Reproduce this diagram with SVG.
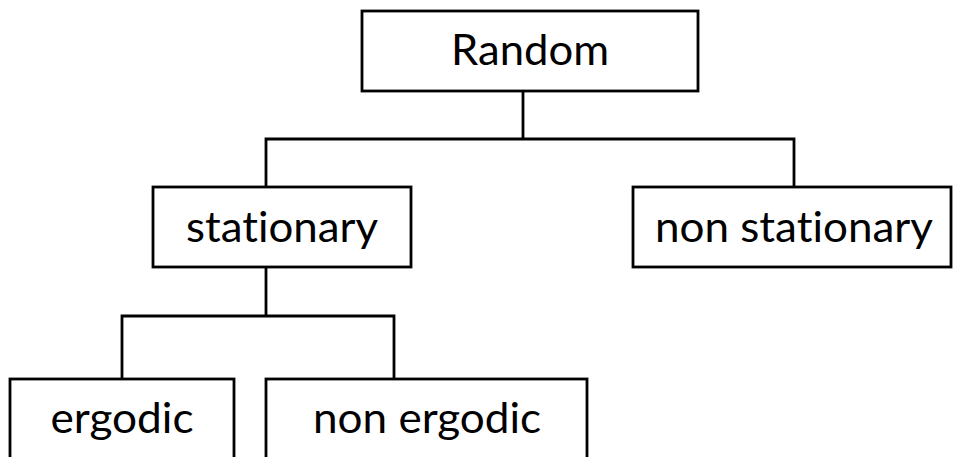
<svg xmlns="http://www.w3.org/2000/svg" width="955" height="457" viewBox="0 0 955 457">
  <style>
    .box { fill: #ffffff; stroke: #000000; stroke-width: 2.8; }
    .wire { fill: none; stroke: #000000; stroke-width: 2.8; }
    .label { font-family: Lato, "Open Sans", "Liberation Sans", sans-serif; font-size: 42px; fill: #000000; text-anchor: middle; font-variant-ligatures: none; font-feature-settings: "liga" 0, "clig" 0; }
  </style>
  <rect width="955" height="457" fill="#ffffff"/>

  <!-- tree connectors -->
  <g id="connectors">
    <polyline class="wire" points="523,91 523,139"/>
    <polyline class="wire" points="266,187 266,139 794,139 794,187"/>
    <polyline class="wire" points="266,267 266,316"/>
    <polyline class="wire" points="122,379 122,316 394,316 394,379"/>
  </g>

  <g id="random">
    <rect class="box" x="362" y="11" width="336" height="80"/>
    <text class="label" x="530" y="65" textLength="158" lengthAdjust="spacingAndGlyphs">Random</text>
  </g>

  <g id="stationary">
    <rect class="box" x="153" y="187" width="258" height="80"/>
    <text class="label" x="282" y="242" textLength="192" lengthAdjust="spacingAndGlyphs">stationary</text>
  </g>

  <g id="non-stationary">
    <rect class="box" x="633" y="187" width="318" height="80"/>
    <text class="label" x="794" y="242" textLength="278" lengthAdjust="spacingAndGlyphs">non stationary</text>
  </g>

  <g id="ergodic">
    <rect class="box" x="10" y="379" width="224" height="100"/>
    <text class="label" x="122" y="433" textLength="143" lengthAdjust="spacingAndGlyphs">ergodic</text>
  </g>

  <g id="non-ergodic">
    <rect class="box" x="266" y="379" width="321" height="100"/>
    <text class="label" x="427" y="433" textLength="228" lengthAdjust="spacingAndGlyphs">non ergodic</text>
  </g>
</svg>
